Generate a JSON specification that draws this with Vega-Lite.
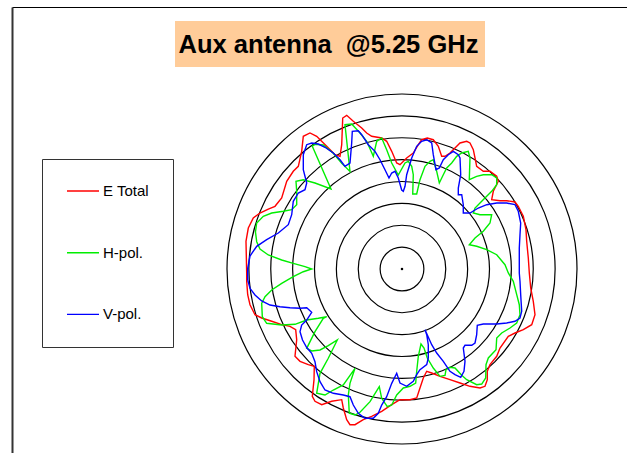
{
  "$schema": "https://vega.github.io/schema/vega-lite/v6.json",
  "width": 615,
  "height": 446,
  "autosize": {"type": "none"},
  "padding": {"left": 12, "top": 7, "right": 0, "bottom": 0},
  "background": "white",
  "config": {
    "view": {"stroke": null},
    "font": "Liberation Sans",
    "axis": {"ticks": false, "labels": false, "grid": false, "title": null, "domain": true}
  },
  "datasets": {
    "rings": [{"r": 5}, {"r": 10}, {"r": 15}, {"r": 20}, {"r": 25}, {"r": 30}, {"r": 35}, {"r": 40}],
    "curves": [
      {"series":"E Total","i":1,"x":-35.5,"y":-0.91},{"series":"E Total","i":2,"x":-35.66,"y":6.33},{"series":"E Total","i":3,"x":-35.13,"y":9.37},{"series":"E Total","i":4,"x":-33.99,"y":11.66},{"series":"E Total","i":5,"x":-32.46,"y":12.8},{"series":"E Total","i":6,"x":-30.56,"y":13.71},{"series":"E Total","i":7,"x":-29.03,"y":14.33},{"series":"E Total","i":8,"x":-27.5,"y":16.23},{"series":"E Total","i":9,"x":-26.35,"y":20.05},{"series":"E Total","i":10,"x":-24.85,"y":22.33},
      {"series":"E Total","i":11,"x":-23.7,"y":23.47},{"series":"E Total","i":12,"x":-22.93,"y":26.9},{"series":"E Total","i":13,"x":-22.56,"y":30.33},{"series":"E Total","i":14,"x":-21.03,"y":31.09},{"series":"E Total","i":15,"x":-19.5,"y":30.33},{"series":"E Total","i":16,"x":-17.21,"y":28.05},{"series":"E Total","i":17,"x":-15.31,"y":26.13},{"series":"E Total","i":18,"x":-14.17,"y":25.76},{"series":"E Total","i":19,"x":-13.78,"y":28.41},{"series":"E Total","i":20,"x":-13.55,"y":34.51},
      {"series":"E Total","i":21,"x":-12.64,"y":35.13},{"series":"E Total","i":22,"x":-11.13,"y":33.76},{"series":"E Total","i":23,"x":-9.21,"y":32.23},{"series":"E Total","i":24,"x":-8.07,"y":31.09},{"series":"E Total","i":25,"x":-6.93,"y":30.33},{"series":"E Total","i":26,"x":-4.64,"y":29.94},{"series":"E Total","i":27,"x":-3.5,"y":29.19},{"series":"E Total","i":28,"x":-2.35,"y":26.9},{"series":"E Total","i":29,"x":-1.21,"y":24.23},{"series":"E Total","i":30,"x":-0.46,"y":23.84},
      {"series":"E Total","i":31,"x":1.07,"y":25.37},{"series":"E Total","i":32,"x":2.58,"y":26.51},{"series":"E Total","i":33,"x":3.73,"y":28.41},{"series":"E Total","i":34,"x":4.5,"y":29.55},{"series":"E Total","i":35,"x":5.78,"y":29.94},{"series":"E Total","i":36,"x":7.15,"y":29.55},{"series":"E Total","i":37,"x":8.3,"y":28.05},{"series":"E Total","i":38,"x":9.07,"y":25.76},{"series":"E Total","i":39,"x":9.83,"y":25.76},{"series":"E Total","i":40,"x":10.97,"y":26.51},
      {"series":"E Total","i":41,"x":12.11,"y":27.66},{"series":"E Total","i":42,"x":13.26,"y":28.8},{"series":"E Total","i":43,"x":14.79,"y":29.19},{"series":"E Total","i":44,"x":15.54,"y":28.8},{"series":"E Total","i":45,"x":16.3,"y":27.27},{"series":"E Total","i":46,"x":16.69,"y":25.37},{"series":"E Total","i":47,"x":17.07,"y":23.47},{"series":"E Total","i":48,"x":18.58,"y":22.33},{"series":"E Total","i":49,"x":20.11,"y":22.33},{"series":"E Total","i":50,"x":21.65,"y":21.19},
      {"series":"E Total","i":51,"x":22.01,"y":20.05},{"series":"E Total","i":52,"x":20.87,"y":17.76},{"series":"E Total","i":53,"x":20.5,"y":15.84},{"series":"E Total","i":54,"x":22.4,"y":15.61},{"series":"E Total","i":55,"x":23.93,"y":15.61},{"series":"E Total","i":56,"x":25.83,"y":15.31},{"series":"E Total","i":57,"x":26.58,"y":14.33},{"series":"E Total","i":58,"x":27.73,"y":12.05},{"series":"E Total","i":59,"x":28.34,"y":8.98},{"series":"E Total","i":60,"x":28.5,"y":6.33},
      {"series":"E Total","i":61,"x":28.87,"y":2.51},{"series":"E Total","i":62,"x":29.1,"y":-0.91},{"series":"E Total","i":63,"x":29.42,"y":-4.34},{"series":"E Total","i":64,"x":30.01,"y":-7.38},{"series":"E Total","i":65,"x":30.4,"y":-10.45},{"series":"E Total","i":66,"x":29.65,"y":-12.73},{"series":"E Total","i":67,"x":27.73,"y":-13.87},{"series":"E Total","i":68,"x":25.83,"y":-14.63},{"series":"E Total","i":69,"x":24.3,"y":-15.38},{"series":"E Total","i":70,"x":22.4,"y":-18.06},
      {"series":"E Total","i":71,"x":21.65,"y":-19.95},{"series":"E Total","i":72,"x":20.11,"y":-21.87},{"series":"E Total","i":73,"x":19.5,"y":-23.38},{"series":"E Total","i":74,"x":19.5,"y":-25.3},{"series":"E Total","i":75,"x":18.97,"y":-26.81},{"series":"E Total","i":76,"x":17.83,"y":-27.2},{"series":"E Total","i":77,"x":15.54,"y":-26.81},{"series":"E Total","i":78,"x":13.26,"y":-26.06},{"series":"E Total","i":79,"x":10.97,"y":-25.3},{"series":"E Total","i":80,"x":8.69,"y":-24.53},
      {"series":"E Total","i":81,"x":6.79,"y":-23.77},{"series":"E Total","i":82,"x":5.65,"y":-23.38},{"series":"E Total","i":83,"x":4.87,"y":-24.91},{"series":"E Total","i":84,"x":4.11,"y":-27.2},{"series":"E Total","i":85,"x":3.36,"y":-29.49},{"series":"E Total","i":86,"x":1.83,"y":-29.87},{"series":"E Total","i":87,"x":-0.46,"y":-29.87},{"series":"E Total","i":88,"x":-2.35,"y":-31.02},{"series":"E Total","i":89,"x":-4.64,"y":-32.53},{"series":"E Total","i":90,"x":-6.93,"y":-33.67},
      {"series":"E Total","i":91,"x":-8.85,"y":-34.45},{"series":"E Total","i":92,"x":-10.74,"y":-35.59},{"series":"E Total","i":93,"x":-11.89,"y":-35.59},{"series":"E Total","i":94,"x":-12.64,"y":-34.45},{"series":"E Total","i":95,"x":-13.42,"y":-31.77},{"series":"E Total","i":96,"x":-13.78,"y":-29.87},{"series":"E Total","i":97,"x":-16.07,"y":-30.24},{"series":"E Total","i":98,"x":-18.35,"y":-31.02},{"series":"E Total","i":99,"x":-19.89,"y":-30.24},{"series":"E Total","i":100,"x":-20.5,"y":-29.1},
      {"series":"E Total","i":101,"x":-20.11,"y":-25.3},{"series":"E Total","i":102,"x":-20.05,"y":-22.24},{"series":"E Total","i":103,"x":-21.42,"y":-21.87},{"series":"E Total","i":104,"x":-23.31,"y":-21.1},{"series":"E Total","i":105,"x":-24.46,"y":-19.95},{"series":"E Total","i":106,"x":-24.07,"y":-16.16},{"series":"E Total","i":107,"x":-24.3,"y":-13.87},{"series":"E Total","i":108,"x":-25.6,"y":-13.1},{"series":"E Total","i":109,"x":-27.5,"y":-12.73},{"series":"E Total","i":110,"x":-29.78,"y":-11.95},
      {"series":"E Total","i":111,"x":-32.07,"y":-11.2},{"series":"E Total","i":112,"x":-33.6,"y":-10.45},{"series":"E Total","i":113,"x":-34.74,"y":-8.16},{"series":"E Total","i":114,"x":-35.27,"y":-5.87},{"series":"E Total","i":115,"x":-35.5,"y":-2.81},{"series":"E Total","i":116,"x":-35.5,"y":-0.91},

      {"series":"H-pol.","i":1,"x":-27.5,"y":-12.8},{"series":"H-pol.","i":2,"x":-30.93,"y":-12.41},{"series":"H-pol.","i":3,"x":-31.93,"y":-10.9},{"series":"H-pol.","i":4,"x":-32.07,"y":-7.84},{"series":"H-pol.","i":5,"x":-31.31,"y":-6.33},{"series":"H-pol.","i":6,"x":-29.78,"y":-4.8},{"series":"H-pol.","i":7,"x":-27.5,"y":-3.27},{"series":"H-pol.","i":8,"x":-24.85,"y":-1.76},{"series":"H-pol.","i":9,"x":-22.56,"y":-0.62},{"series":"H-pol.","i":10,"x":-20.64,"y":0},
      {"series":"H-pol.","i":11,"x":-22.17,"y":0.53},{"series":"H-pol.","i":12,"x":-24.85,"y":1.3},{"series":"H-pol.","i":13,"x":-27.5,"y":2.06},{"series":"H-pol.","i":14,"x":-30.56,"y":3.2},{"series":"H-pol.","i":15,"x":-32.46,"y":4.57},{"series":"H-pol.","i":16,"x":-33.21,"y":6.24},{"series":"H-pol.","i":17,"x":-33.49,"y":8.46},{"series":"H-pol.","i":18,"x":-33.21,"y":10.51},{"series":"H-pol.","i":19,"x":-31.7,"y":12.05},{"series":"H-pol.","i":20,"x":-29.78,"y":12.8},
      {"series":"H-pol.","i":21,"x":-27.13,"y":13.19},{"series":"H-pol.","i":22,"x":-25.21,"y":13.55},{"series":"H-pol.","i":23,"x":-24.07,"y":14.7},{"series":"H-pol.","i":24,"x":-24.07,"y":17.76},{"series":"H-pol.","i":25,"x":-24.23,"y":20.05},{"series":"H-pol.","i":26,"x":-22.56,"y":20.41},{"series":"H-pol.","i":27,"x":-19.89,"y":19.66},{"series":"H-pol.","i":28,"x":-16.23,"y":18.29},{"series":"H-pol.","i":29,"x":-20.5,"y":28.05},{"series":"H-pol.","i":30,"x":-19.89,"y":28.5},
      {"series":"H-pol.","i":31,"x":-17.99,"y":28.34},{"series":"H-pol.","i":32,"x":-15.7,"y":26.45},{"series":"H-pol.","i":33,"x":-13.78,"y":24.16},{"series":"H-pol.","i":34,"x":-11.89,"y":22.29},{"series":"H-pol.","i":35,"x":-13.03,"y":32.98},{"series":"H-pol.","i":36,"x":-11.5,"y":33.14},{"series":"H-pol.","i":37,"x":-9.6,"y":31.09},{"series":"H-pol.","i":38,"x":-8.07,"y":29.19},{"series":"H-pol.","i":39,"x":-6.56,"y":25.76},{"series":"H-pol.","i":40,"x":-5.78,"y":29.19},
      {"series":"H-pol.","i":41,"x":-4.64,"y":29.94},{"series":"H-pol.","i":42,"x":-3.5,"y":27.27},{"series":"H-pol.","i":43,"x":-2.35,"y":24.23},{"series":"H-pol.","i":44,"x":-0.85,"y":21.49},{"series":"H-pol.","i":45,"x":0.69,"y":24.23},{"series":"H-pol.","i":46,"x":1.44,"y":24.62},{"series":"H-pol.","i":47,"x":2.22,"y":23.47},{"series":"H-pol.","i":48,"x":2.58,"y":21.55},{"series":"H-pol.","i":49,"x":2.45,"y":17.14},{"series":"H-pol.","i":50,"x":3.36,"y":17.14},
      {"series":"H-pol.","i":51,"x":4.11,"y":20.41},{"series":"H-pol.","i":52,"x":5.26,"y":23.47},{"series":"H-pol.","i":53,"x":6.4,"y":24.62},{"series":"H-pol.","i":54,"x":7.15,"y":24.98},{"series":"H-pol.","i":55,"x":7.93,"y":22.33},{"series":"H-pol.","i":56,"x":8.53,"y":19.66},{"series":"H-pol.","i":57,"x":9.44,"y":21.55},{"series":"H-pol.","i":58,"x":10.22,"y":23.09},{"series":"H-pol.","i":59,"x":11.36,"y":24.23},{"series":"H-pol.","i":60,"x":12.5,"y":25.76},
      {"series":"H-pol.","i":61,"x":13.65,"y":26.51},{"series":"H-pol.","i":62,"x":15.15,"y":26.9},{"series":"H-pol.","i":63,"x":15.54,"y":25.37},{"series":"H-pol.","i":64,"x":15.38,"y":20.41},{"series":"H-pol.","i":65,"x":17.07,"y":21.19},{"series":"H-pol.","i":66,"x":18.58,"y":21.55},{"series":"H-pol.","i":67,"x":20.5,"y":21.55},{"series":"H-pol.","i":68,"x":21.65,"y":20.8},{"series":"H-pol.","i":69,"x":21.65,"y":19.27},{"series":"H-pol.","i":70,"x":20.5,"y":17.76},
      {"series":"H-pol.","i":71,"x":19.36,"y":16.62},{"series":"H-pol.","i":72,"x":17.83,"y":15.09},{"series":"H-pol.","i":73,"x":16.69,"y":13.94},{"series":"H-pol.","i":74,"x":16.3,"y":12.8},{"series":"H-pol.","i":75,"x":17.83,"y":12.41},{"series":"H-pol.","i":76,"x":20.5,"y":12.41},{"series":"H-pol.","i":77,"x":20.11,"y":10.51},{"series":"H-pol.","i":78,"x":18.58,"y":8.62},{"series":"H-pol.","i":79,"x":16.69,"y":7.09},{"series":"H-pol.","i":80,"x":15.38,"y":5.55},
      {"series":"H-pol.","i":81,"x":17.07,"y":5.19},{"series":"H-pol.","i":82,"x":19.36,"y":4.41},{"series":"H-pol.","i":83,"x":21.65,"y":3.27},{"series":"H-pol.","i":84,"x":23.54,"y":0.98},{"series":"H-pol.","i":85,"x":24.3,"y":-0.91},{"series":"H-pol.","i":86,"x":25.44,"y":-2.81},{"series":"H-pol.","i":87,"x":26.22,"y":-5.87},{"series":"H-pol.","i":88,"x":26.81,"y":-8.16},{"series":"H-pol.","i":89,"x":26.97,"y":-10.45},{"series":"H-pol.","i":90,"x":26.22,"y":-12.34},
      {"series":"H-pol.","i":91,"x":24.69,"y":-13.49},{"series":"H-pol.","i":92,"x":22.79,"y":-14.63},{"series":"H-pol.","i":93,"x":21.65,"y":-15.77},{"series":"H-pol.","i":94,"x":21.49,"y":-18.45},{"series":"H-pol.","i":95,"x":19.73,"y":-20.34},{"series":"H-pol.","i":96,"x":19.2,"y":-21.87},{"series":"H-pol.","i":97,"x":19.13,"y":-24.91},{"series":"H-pol.","i":98,"x":18.22,"y":-26.29},{"series":"H-pol.","i":99,"x":17.07,"y":-26.45},{"series":"H-pol.","i":100,"x":14.79,"y":-25.3},
      {"series":"H-pol.","i":101,"x":13.65,"y":-24.3},{"series":"H-pol.","i":102,"x":12.11,"y":-22.63},{"series":"H-pol.","i":103,"x":10.97,"y":-22.47},{"series":"H-pol.","i":104,"x":10.06,"y":-23.02},{"series":"H-pol.","i":105,"x":9.83,"y":-24.3},{"series":"H-pol.","i":106,"x":8.69,"y":-24.53},{"series":"H-pol.","i":107,"x":7.15,"y":-22.63},{"series":"H-pol.","i":108,"x":5.78,"y":-20.34},{"series":"H-pol.","i":109,"x":5.03,"y":-18.06},{"series":"H-pol.","i":110,"x":4.34,"y":-17.14},
      {"series":"H-pol.","i":111,"x":3.73,"y":-19.95},{"series":"H-pol.","i":112,"x":3.36,"y":-23.38},{"series":"H-pol.","i":113,"x":3.13,"y":-26.06},{"series":"H-pol.","i":114,"x":1.83,"y":-26.81},{"series":"H-pol.","i":115,"x":0.3,"y":-27.2},{"series":"H-pol.","i":116,"x":-1.21,"y":-28.8},{"series":"H-pol.","i":117,"x":-2.35,"y":-31.09},{"series":"H-pol.","i":118,"x":-3.36,"y":-31.47},{"series":"H-pol.","i":119,"x":-4.64,"y":-29.55},{"series":"H-pol.","i":120,"x":-5.19,"y":-26.9},
      {"series":"H-pol.","i":121,"x":-7.31,"y":-30.33},{"series":"H-pol.","i":122,"x":-9.6,"y":-32.75},{"series":"H-pol.","i":123,"x":-10.74,"y":-33.37},{"series":"H-pol.","i":124,"x":-12.05,"y":-32.98},{"series":"H-pol.","i":125,"x":-12.27,"y":-28.8},{"series":"H-pol.","i":126,"x":-11.89,"y":-26.13},{"series":"H-pol.","i":127,"x":-10.74,"y":-22.7},{"series":"H-pol.","i":128,"x":-13.42,"y":-26.51},{"series":"H-pol.","i":129,"x":-15.7,"y":-27.66},{"series":"H-pol.","i":130,"x":-17.6,"y":-28.8},
      {"series":"H-pol.","i":131,"x":-19.5,"y":-28.41},{"series":"H-pol.","i":132,"x":-18.74,"y":-23.84},{"series":"H-pol.","i":133,"x":-16.85,"y":-20.41},{"series":"H-pol.","i":134,"x":-14.79,"y":-16.23},{"series":"H-pol.","i":135,"x":-16.85,"y":-17.53},{"series":"H-pol.","i":136,"x":-18.74,"y":-18.51},{"series":"H-pol.","i":137,"x":-20.64,"y":-18.74},{"series":"H-pol.","i":138,"x":-21.78,"y":-18.13},{"series":"H-pol.","i":139,"x":-19.89,"y":-14.33},{"series":"H-pol.","i":140,"x":-17.99,"y":-11.27},
      {"series":"H-pol.","i":141,"x":-17.21,"y":-10.9},{"series":"H-pol.","i":142,"x":-19.13,"y":-11.27},{"series":"H-pol.","i":143,"x":-21.78,"y":-11.66},{"series":"H-pol.","i":144,"x":-24.46,"y":-12.64},{"series":"H-pol.","i":145,"x":-27.5,"y":-12.8},

      {"series":"V-pol.","i":1,"x":-35.27,"y":-2.51},{"series":"V-pol.","i":2,"x":-35.27,"y":0.16},{"series":"V-pol.","i":3,"x":-34.74,"y":2.97},{"series":"V-pol.","i":4,"x":-33.21,"y":5.19},{"series":"V-pol.","i":5,"x":-30.93,"y":6.7},{"series":"V-pol.","i":6,"x":-28.27,"y":8.23},{"series":"V-pol.","i":7,"x":-25.99,"y":10.13},{"series":"V-pol.","i":8,"x":-25.21,"y":12.41},{"series":"V-pol.","i":9,"x":-24.85,"y":15.47},{"series":"V-pol.","i":10,"x":-23.7,"y":17.37},
      {"series":"V-pol.","i":11,"x":-22.17,"y":18.13},{"series":"V-pol.","i":12,"x":-21.78,"y":19.66},{"series":"V-pol.","i":13,"x":-22.56,"y":22.7},{"series":"V-pol.","i":14,"x":-22.56,"y":26.13},{"series":"V-pol.","i":15,"x":-21.78,"y":28.41},{"series":"V-pol.","i":16,"x":-20.64,"y":28.8},{"series":"V-pol.","i":17,"x":-19.13,"y":28.57},{"series":"V-pol.","i":18,"x":-17.6,"y":27.82},{"series":"V-pol.","i":19,"x":-15.7,"y":26.51},{"series":"V-pol.","i":20,"x":-14.17,"y":24.98},
      {"series":"V-pol.","i":21,"x":-13.03,"y":23.47},{"series":"V-pol.","i":22,"x":-11.89,"y":24.23},{"series":"V-pol.","i":23,"x":-11.5,"y":28.8},{"series":"V-pol.","i":24,"x":-11.36,"y":31.47},{"series":"V-pol.","i":25,"x":-9.99,"y":31.61},{"series":"V-pol.","i":26,"x":-9.21,"y":30.7},{"series":"V-pol.","i":27,"x":-7.7,"y":28.41},{"series":"V-pol.","i":28,"x":-6.17,"y":26.9},{"series":"V-pol.","i":29,"x":-5.03,"y":24.98},{"series":"V-pol.","i":30,"x":-3.89,"y":22.7},
      {"series":"V-pol.","i":31,"x":-2.97,"y":20.8},{"series":"V-pol.","i":32,"x":-2.35,"y":21.94},{"series":"V-pol.","i":33,"x":-1.6,"y":22.33},{"series":"V-pol.","i":34,"x":-0.85,"y":20.8},{"series":"V-pol.","i":35,"x":-0.07,"y":18.06},{"series":"V-pol.","i":36,"x":0.3,"y":17.76},{"series":"V-pol.","i":37,"x":0.69,"y":18.9},{"series":"V-pol.","i":38,"x":1.07,"y":21.55},{"series":"V-pol.","i":39,"x":2.22,"y":25.37},{"series":"V-pol.","i":40,"x":3.36,"y":28.05},
      {"series":"V-pol.","i":41,"x":4.5,"y":29.19},{"series":"V-pol.","i":42,"x":5.65,"y":29.55},{"series":"V-pol.","i":43,"x":6.79,"y":28.8},{"series":"V-pol.","i":44,"x":7.15,"y":26.13},{"series":"V-pol.","i":45,"x":7.77,"y":22.7},{"series":"V-pol.","i":46,"x":8.53,"y":23.09},{"series":"V-pol.","i":47,"x":9.44,"y":24.98},{"series":"V-pol.","i":48,"x":10.58,"y":26.13},{"series":"V-pol.","i":49,"x":11.73,"y":26.9},{"series":"V-pol.","i":50,"x":12.87,"y":26.13},
      {"series":"V-pol.","i":51,"x":13.26,"y":25.37},{"series":"V-pol.","i":52,"x":13.42,"y":21.55},{"series":"V-pol.","i":53,"x":12.87,"y":18.51},{"series":"V-pol.","i":54,"x":12.87,"y":16.98},{"series":"V-pol.","i":55,"x":13.65,"y":16.98},{"series":"V-pol.","i":56,"x":14.01,"y":14.7},{"series":"V-pol.","i":57,"x":14.01,"y":12.8},{"series":"V-pol.","i":58,"x":15.54,"y":12.8},{"series":"V-pol.","i":59,"x":17.44,"y":13.94},{"series":"V-pol.","i":60,"x":19.36,"y":14.7},
      {"series":"V-pol.","i":61,"x":21.65,"y":15.09},{"series":"V-pol.","i":62,"x":23.93,"y":15.09},{"series":"V-pol.","i":63,"x":25.83,"y":14.7},{"series":"V-pol.","i":64,"x":26.58,"y":13.19},{"series":"V-pol.","i":65,"x":27.13,"y":10.51},{"series":"V-pol.","i":66,"x":26.97,"y":7.84},{"series":"V-pol.","i":67,"x":26.81,"y":4.8},{"series":"V-pol.","i":68,"x":26.81,"y":-0.91},{"series":"V-pol.","i":69,"x":26.97,"y":-2.81},{"series":"V-pol.","i":70,"x":27.13,"y":-5.87},
      {"series":"V-pol.","i":71,"x":27.36,"y":-9.67},{"series":"V-pol.","i":72,"x":26.97,"y":-11.2},{"series":"V-pol.","i":73,"x":25.83,"y":-11.95},{"series":"V-pol.","i":74,"x":23.93,"y":-12.34},{"series":"V-pol.","i":75,"x":21.65,"y":-12.57},{"series":"V-pol.","i":76,"x":18.58,"y":-12.57},{"series":"V-pol.","i":77,"x":17.21,"y":-12.87},{"series":"V-pol.","i":78,"x":17.07,"y":-15.02},{"series":"V-pol.","i":79,"x":16.69,"y":-16.91},{"series":"V-pol.","i":80,"x":15.93,"y":-17.44},
      {"series":"V-pol.","i":81,"x":14.4,"y":-17.44},{"series":"V-pol.","i":82,"x":14.01,"y":-18.06},{"series":"V-pol.","i":83,"x":14.4,"y":-21.1},{"series":"V-pol.","i":84,"x":14.17,"y":-23.38},{"series":"V-pol.","i":85,"x":13.42,"y":-24.75},{"series":"V-pol.","i":86,"x":12.11,"y":-24.16},{"series":"V-pol.","i":87,"x":10.97,"y":-23.38},{"series":"V-pol.","i":88,"x":9.44,"y":-21.1},{"series":"V-pol.","i":89,"x":7.93,"y":-19.2},{"series":"V-pol.","i":90,"x":6.79,"y":-17.3},
      {"series":"V-pol.","i":91,"x":5.26,"y":-13.87},{"series":"V-pol.","i":92,"x":5.65,"y":-15.02},{"series":"V-pol.","i":93,"x":6.01,"y":-17.3},{"series":"V-pol.","i":94,"x":6.01,"y":-20.34},{"series":"V-pol.","i":95,"x":5.65,"y":-21.87},{"series":"V-pol.","i":96,"x":4.11,"y":-23.02},{"series":"V-pol.","i":97,"x":3.36,"y":-24.16},{"series":"V-pol.","i":98,"x":2.58,"y":-25.67},{"series":"V-pol.","i":99,"x":1.07,"y":-26.81},{"series":"V-pol.","i":100,"x":-0.46,"y":-26.06},
      {"series":"V-pol.","i":101,"x":-1.21,"y":-23.84},{"series":"V-pol.","i":102,"x":-2.35,"y":-26.13},{"series":"V-pol.","i":103,"x":-3.5,"y":-29.19},{"series":"V-pol.","i":104,"x":-4.64,"y":-31.09},{"series":"V-pol.","i":105,"x":-5.42,"y":-32.98},{"series":"V-pol.","i":106,"x":-6.56,"y":-34.13},{"series":"V-pol.","i":107,"x":-8.46,"y":-34.13},{"series":"V-pol.","i":108,"x":-9.99,"y":-32.98},{"series":"V-pol.","i":109,"x":-11.13,"y":-31.09},{"series":"V-pol.","i":110,"x":-11.89,"y":-29.19},
      {"series":"V-pol.","i":111,"x":-13.42,"y":-28.8},{"series":"V-pol.","i":112,"x":-15.7,"y":-28.41},{"series":"V-pol.","i":113,"x":-17.6,"y":-27.66},{"series":"V-pol.","i":114,"x":-18.74,"y":-25.76},{"series":"V-pol.","i":115,"x":-19.5,"y":-23.47},{"series":"V-pol.","i":116,"x":-19.89,"y":-21.19},{"series":"V-pol.","i":117,"x":-20.64,"y":-19.27},{"series":"V-pol.","i":118,"x":-21.78,"y":-17.94},{"series":"V-pol.","i":119,"x":-22.74,"y":-16.23},{"series":"V-pol.","i":120,"x":-23.31,"y":-14.33},
      {"series":"V-pol.","i":121,"x":-22.93,"y":-12.8},{"series":"V-pol.","i":122,"x":-21.78,"y":-11.66},{"series":"V-pol.","i":123,"x":-20.64,"y":-9.9},{"series":"V-pol.","i":124,"x":-21.78,"y":-8.85},{"series":"V-pol.","i":125,"x":-23.31,"y":-8.98},{"series":"V-pol.","i":126,"x":-25.6,"y":-8.85},{"series":"V-pol.","i":127,"x":-27.89,"y":-8.62},{"series":"V-pol.","i":128,"x":-30.17,"y":-8.23},{"series":"V-pol.","i":129,"x":-32.07,"y":-7.31},{"series":"V-pol.","i":130,"x":-33.6,"y":-5.94},
      {"series":"V-pol.","i":131,"x":-34.74,"y":-4.41},{"series":"V-pol.","i":132,"x":-35.27,"y":-2.51}
    ]
  },
  "layer": [
    {
      "data": {"values": [{}]},
      "mark": {"type": "rect", "color": "#FFCC99"},
      "encoding": {
        "x": {"datum": -51.886, "type": "quantitative", "scale": {"domain": [-89.143, 51.429], "nice": false, "zero": false}, "axis": {"orient": "top", "domainColor": "#000", "domainWidth": 1}},
        "x2": {"datum": 18.971},
        "y": {"datum": 56.686, "type": "quantitative", "scale": {"domain": [-42.057, 59.886], "nice": false, "zero": false}, "axis": {"orient": "left", "domainColor": "#333", "domainWidth": 2}},
        "y2": {"datum": 46.171}
      }
    },
    {
      "data": {"values": [{}]},
      "mark": {"type": "text", "text": "Aux antenna\u00a0 @5.25 GHz", "font": "Liberation Sans", "fontSize": 25.5, "fontWeight": "bold", "color": "#000", "align": "center", "baseline": "alphabetic"},
      "encoding": {
        "x": {"datum": -16.8, "type": "quantitative", "scale": {"domain": [-89.143, 51.429], "nice": false, "zero": false}, "axis": {"orient": "top", "domainColor": "#000", "domainWidth": 1}},
        "y": {"datum": 49.3, "type": "quantitative", "scale": {"domain": [-42.057, 59.886], "nice": false, "zero": false}, "axis": {"orient": "left", "domainColor": "#333", "domainWidth": 2}}
      }
    },
    {
      "data": {"name": "rings"},
      "mark": {"type": "arc", "theta": 0, "theta2": 6.2832, "filled": false, "stroke": "#000", "strokeWidth": 1.2},
      "encoding": {
        "x": {"datum": 0, "type": "quantitative", "scale": {"domain": [-89.143, 51.429], "nice": false, "zero": false}, "axis": {"orient": "top", "domainColor": "#000", "domainWidth": 1}},
        "y": {"datum": 0, "type": "quantitative", "scale": {"domain": [-42.057, 59.886], "nice": false, "zero": false}, "axis": {"orient": "left", "domainColor": "#333", "domainWidth": 2}},
        "radius": {"field": "r", "type": "quantitative", "stack": null, "scale": {"type": "linear", "domain": [0, 40], "range": [0, 175], "zero": true}}
      }
    },
    {
      "data": {"values": [{}]},
      "mark": {"type": "point", "shape": "square", "size": 5, "filled": true, "color": "#000", "opacity": 1},
      "encoding": {
        "x": {"datum": 0, "type": "quantitative", "scale": {"domain": [-89.143, 51.429], "nice": false, "zero": false}, "axis": {"orient": "top", "domainColor": "#000", "domainWidth": 1}},
        "y": {"datum": 0, "type": "quantitative", "scale": {"domain": [-42.057, 59.886], "nice": false, "zero": false}, "axis": {"orient": "left", "domainColor": "#333", "domainWidth": 2}}
      }
    },
    {
      "data": {"name": "curves"},
      "mark": {"type": "line", "strokeWidth": 1.4, "interpolate": "linear"},
      "encoding": {
        "x": {"field": "x", "type": "quantitative", "scale": {"domain": [-89.143, 51.429], "nice": false, "zero": false}, "axis": {"orient": "top", "domainColor": "#000", "domainWidth": 1}},
        "y": {"field": "y", "type": "quantitative", "scale": {"domain": [-42.057, 59.886], "nice": false, "zero": false}, "axis": {"orient": "left", "domainColor": "#333", "domainWidth": 2}},
        "order": {"field": "i", "type": "quantitative"},
        "color": {
          "field": "series", "type": "nominal",
          "scale": {"domain": ["E Total", "H-pol.", "V-pol."], "range": ["#ff0000", "#00ee00", "#0000ff"]},
          "legend": {
            "title": null, "orient": "none", "legendX": 30, "legendY": 152,
            "symbolType": "stroke", "symbolSize": 1024, "symbolStrokeWidth": 1.4,
            "labelFont": "Liberation Sans", "labelFontSize": 15, "labelColor": "#000", "labelOffset": 3,
            "strokeColor": "#333", "fillColor": "#fff", "padding": 24, "rowPadding": 45.7, "clipHeight": 16
          }
        }
      }
    }
  ]
}
